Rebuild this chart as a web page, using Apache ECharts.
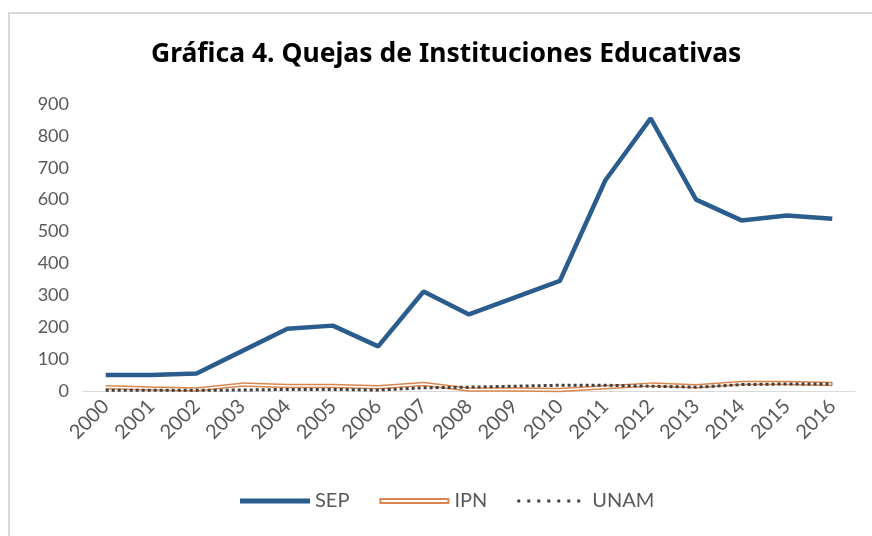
<!DOCTYPE html>
<html>
<head>
<meta charset="utf-8">
<script src="https://cdn.jsdelivr.net/npm/echarts@6/dist/echarts.min.js"></script>
<style>
html, body { margin: 0; padding: 0; background: #fff; overflow: hidden; width: 872px; height: 536px; }
/* marco gris del gráfico (solo arriba e izquierda se ven) */
#frame {
    position: absolute; left: 8px; top: 12px; width: 864px; height: 524px;
    border-top: 2px solid #d9d9d9; border-left: 2px solid #d9d9d9; box-sizing: border-box;
}
#chart { position: absolute; left: 0; top: 0; width: 872px; height: 536px; }
</style>
</head>
<body>
<div id="frame"></div>
<div id="chart"></div>
<script>
// años
const years = ["2000","2001","2002","2003","2004","2005","2006","2007","2008",
    "2009","2010","2011","2012","2013","2014","2015","2016"];
// quejas por institución
const sep = [50, 50, 55, 125, 195, 205, 140, 312, 240, 293, 345, 660, 855, 600, 535, 550, 540];
const ipn = [12, 8, 5, 20, 16, 16, 12, 22, 5, 5, 3, 12, 20, 15, 25, 25, 22];
const unam = [2, 2, 2, 3, 5, 5, 3, 10, 12, 15, 18, 18, 15, 12, 20, 22, 22];

const gray = "#595959";

// icono punteado para la leyenda de UNAM
let dots = "";
for (let i = 0; i < 7; i++) {
    let x = i * 10;
    dots += "M" + x + ",1.5 H" + (x + 3) + " V4.5 H" + x + " Z ";
}
dots += "M0,0 H0.01 V6 H0 Z M70,0 H70.01 V6 H70 Z";

let myChart = echarts.init(document.getElementById("chart"));
let option = {
    animation: false,
    title: {
        text: "Gráfica 4. Quejas de Instituciones Educativas",
        left: 146,
        top: 36,
        textStyle: { fontFamily: "Noto Sans", fontWeight: "bold", fontSize: 26.5, color: "#000" }
    },
    legend: {
        bottom: 20,
        left: 235,
        itemWidth: 70,
        itemHeight: 6,
        itemGap: 30,
        textStyle: { fontFamily: "Lato", fontSize: 20, color: gray },
        data: [
            { name: "SEP", icon: "path://M0,0.5 H70 V5.5 H0 Z" },
            {
                name: "IPN",
                // rectángulo con hueco blanco (línea doble)
                icon: "path://M0,0 H70 V6 H0 Z M2,2 V4 H68 V2 Z"
            },
            { name: "UNAM", icon: "path://" + dots }
        ]
    },
    grid: { left: 83, right: 17, top: 104, bottom: 145 },
    xAxis: {
        type: "category",
        data: years,
        axisTick: { show: false },
        axisLine: { lineStyle: { color: "#d9d9d9", width: 1 } },
        axisLabel: { rotate: 45, color: gray, fontFamily: "Lato", fontSize: 20, margin: 12 }
    },
    yAxis: {
        type: "value",
        min: 0, max: 900, interval: 100,
        splitLine: { show: false },
        axisLabel: { color: gray, fontFamily: "Lato", fontSize: 18, margin: 14 }
    },
    series: [
        {
            name: "SEP", type: "line", data: sep, symbol: "none",
            color: "#2A5D8E",
            lineStyle: { width: 4.5 }
        },
        {
            name: "IPN", type: "line", data: ipn, symbol: "none",
            color: "#D9864E",
            lineStyle: { width: 4.5 }
        },
        {
            // centro blanco de la línea doble del IPN
            name: "IPN-centro", type: "line", data: ipn, symbol: "none",
            color: "#fff", lineStyle: { width: 1.5 }, silent: true
        },
        {
            name: "UNAM", type: "line", data: unam, symbol: "none",
            color: "#404040",
            lineStyle: { width: 3, type: "dotted" }
        }
    ]
};
myChart.setOption(option);
</script>
</body>
</html>
